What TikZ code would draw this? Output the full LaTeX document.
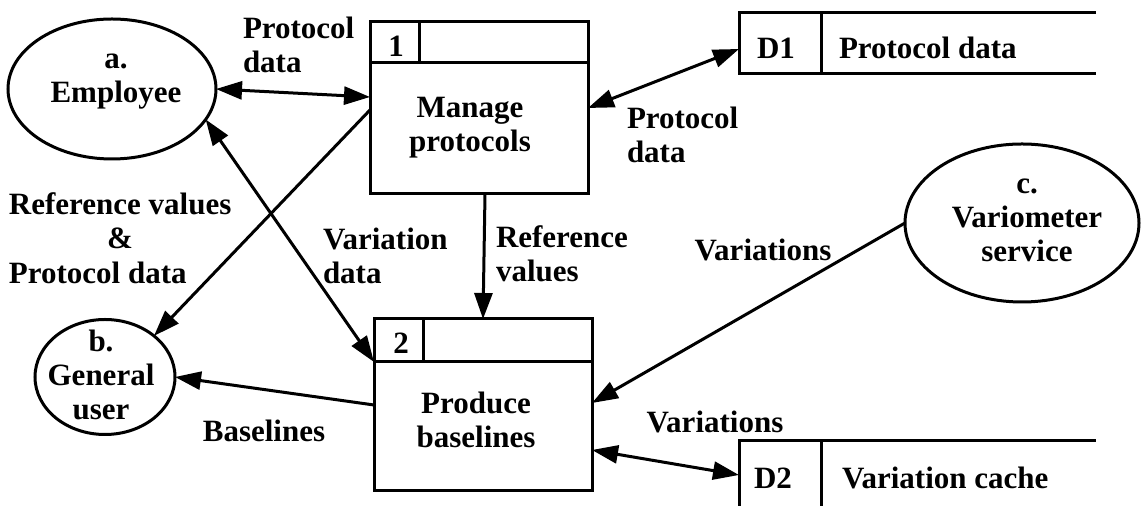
\documentclass[tikz,border=0pt]{standalone}
\usepackage{fontspec}
\setmainfont{Liberation Serif}
\usetikzlibrary{shapes.geometric,arrows.meta,calc}

\begin{document}
\begin{tikzpicture}[x=0.5pt,y=-0.5pt,
  line width=1.5pt,
  >={Triangle[length=13pt,width=9pt]},
  every node/.style={inner sep=0pt, outer sep=0pt},
  txt/.style={font=\fontsize{15.5}{17}\selectfont\bfseries, align=center},
  lbl/.style={txt, anchor=base west, align=left},
  actor/.style={draw, ellipse},
  procbox/.style={draw, rectangle, minimum width=109pt, minimum height=86pt},
  store/.style={rectangle, minimum width=178.5pt},
  flow/.style={->},
  bothflow/.style={<->},
]
\useasboundingbox (0,0) rectangle (1141,506);

% external entities (text nodes are placed by the baseline of their last line)
\node[actor, minimum width=104pt, minimum height=70pt] (a) at (112,89) {};
\node[actor, minimum width=70pt, minimum height=57.5pt] (b) at (105,377) {};
\node[actor, minimum width=117pt, minimum height=79pt] (c) at (1022,223) {};

\node[txt, anchor=base] (ta) at (116,103) {a.\\Employee};
\node[txt, anchor=base] (tb) at (101,420) {b.\\General\\user};
\node[txt, anchor=base] (tc) at (1027,262) {c.\\Variometer\\service};

% processes
\node[procbox] (p1) at (479,108) {};
\draw ([yshift=-20.5pt]p1.north west) -- ([yshift=-20.5pt]p1.north east);
\draw ([xshift=24.5pt]p1.north west) -- ([xshift=24.5pt,yshift=-20.5pt]p1.north west);
\node[txt, anchor=base] (n1) at (396,57) {1};
\node[txt, anchor=base] (t1) at (470,152) {Manage\\protocols};

\node[procbox] (p2) at (483,405) {};
\draw ([yshift=-21.5pt]p2.north west) -- ([yshift=-21.5pt]p2.north east);
\draw ([xshift=24.5pt]p2.north west) -- ([xshift=24.5pt,yshift=-21.5pt]p2.north west);
\node[txt, anchor=base] (n2) at (401,354) {2};
\node[txt, anchor=base] (t2) at (476,448) {Produce\\baselines};

% data stores (open on the right)
\node[store, minimum height=30.5pt] (d1) at (917.5,43.5) {};
\draw (d1.north east) -- (d1.north west) -- (d1.south west) -- (d1.south east);
\draw ([xshift=41pt]d1.north west) -- ([xshift=41pt]d1.south west);
\node[txt, anchor=base] (nd1) at (776,59) {D1};
\node[txt, anchor=base west] (td1) at (839,59) {Protocol data};

\node[store, minimum height=37pt] (d2) at (917.5,478) {};
\draw (d2.south west) -- (d2.north west) -- (d2.north east);
\draw ([xshift=41pt]d2.north west) -- ([xshift=41pt]d2.south west);
\node[txt, anchor=base] (nd2) at (773,489) {D2};
\node[txt, anchor=base west] (td2) at (842,489) {Variation cache};

% data flows
\draw[bothflow] (a.east) -- ([yshift=5.5pt]p1.west);
\draw[flow] ([yshift=-1pt]p1.west) -- (b.40);
\draw[bothflow] (a.-18) -- ([yshift=21.5pt]p2.west);
\draw[flow] ([xshift=3pt]p1.south) -- (p2.north);
\draw[flow] (p2.west) -- (b.east);
\draw[flow] (c.west) -- ([yshift=1pt]p2.east);
\draw[bothflow] (p1.east) -- ([yshift=-2.75pt]d1.west);
\draw[bothflow] ([yshift=-22.5pt]p2.east) -- ([yshift=1.5pt]d2.west);

% flow labels
\node[lbl] (l1) at (243,73) {Protocol\\data};
\node[lbl] (l2) at (627,163) {Protocol\\data};
\node[lbl] (l3a) at (9,215) {Reference values};
\node[txt, anchor=base] (l3b) at (120,249) {\&};
\node[lbl] (l3c) at (9,284) {Protocol data};
\node[lbl] (l4) at (323,284) {Variation\\data};
\node[lbl] (l5) at (496,282) {Reference\\values};
\node[txt, anchor=base] (l6) at (763,261) {Variations};
\node[txt, anchor=base] (l7) at (264,442) {Baselines};
\node[txt, anchor=base] (l8) at (715,433) {Variations};
\end{tikzpicture}
\end{document}
